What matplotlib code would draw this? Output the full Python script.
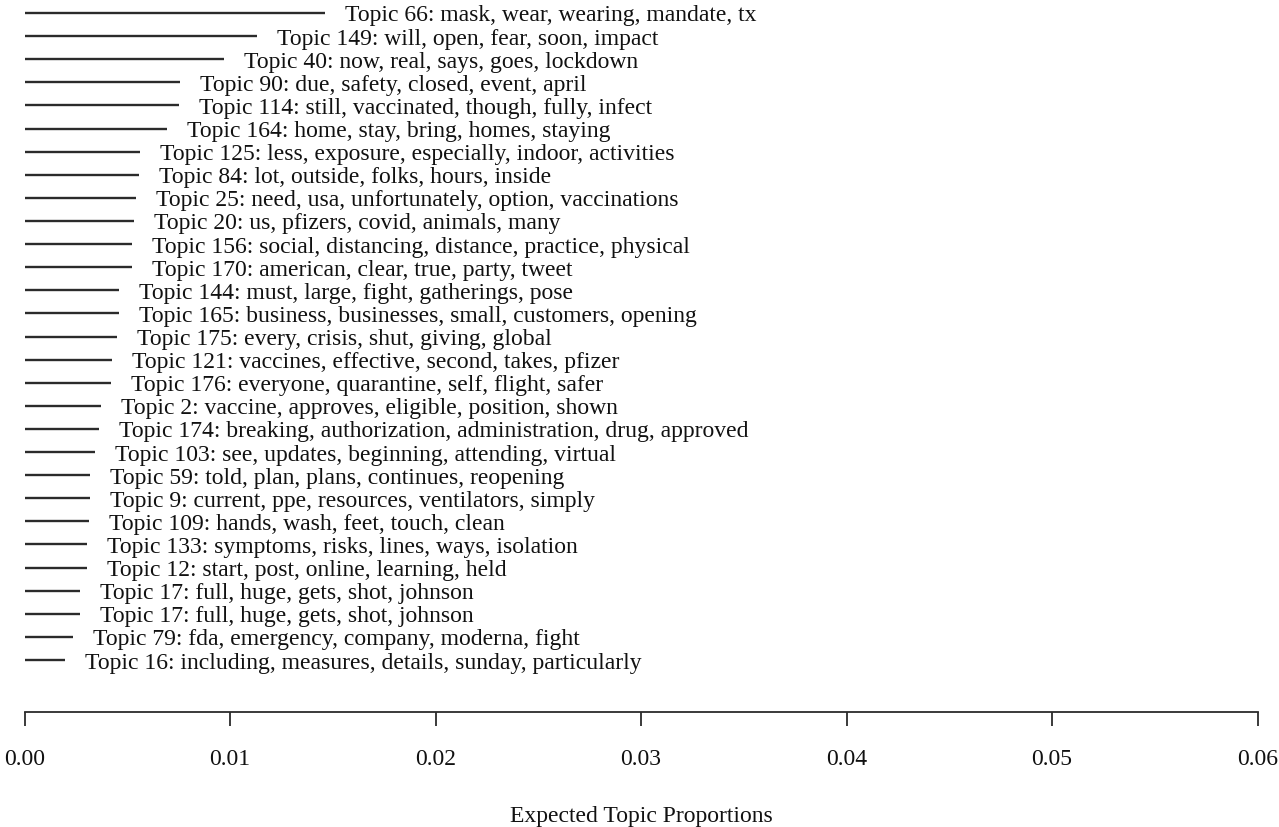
import matplotlib
matplotlib.use("Agg")
import matplotlib.pyplot as plt

# Expected topic proportions, listed top to bottom
topic_labels = [
    "Topic 66: mask, wear, wearing, mandate, tx",
    "Topic 149: will, open, fear, soon, impact",
    "Topic 40: now, real, says, goes, lockdown",
    "Topic 90: due, safety, closed, event, april",
    "Topic 114: still, vaccinated, though, fully, infect",
    "Topic 164: home, stay, bring, homes, staying",
    "Topic 125: less, exposure, especially, indoor, activities",
    "Topic 84: lot, outside, folks, hours, inside",
    "Topic 25: need, usa, unfortunately, option, vaccinations",
    "Topic 20: us, pfizers, covid, animals, many",
    "Topic 156: social, distancing, distance, practice, physical",
    "Topic 170: american, clear, true, party, tweet",
    "Topic 144: must, large, fight, gatherings, pose",
    "Topic 165: business, businesses, small, customers, opening",
    "Topic 175: every, crisis, shut, giving, global",
    "Topic 121: vaccines, effective, second, takes, pfizer",
    "Topic 176: everyone, quarantine, self, flight, safer",
    "Topic 2: vaccine, approves, eligible, position, shown",
    "Topic 174: breaking, authorization, administration, drug, approved",
    "Topic 103: see, updates, beginning, attending, virtual",
    "Topic 59: told, plan, plans, continues, reopening",
    "Topic 9: current, ppe, resources, ventilators, simply",
    "Topic 109: hands, wash, feet, touch, clean",
    "Topic 133: symptoms, risks, lines, ways, isolation",
    "Topic 12: start, post, online, learning, held",
    "Topic 17: full, huge, gets, shot, johnson",
    "Topic 17: full, huge, gets, shot, johnson",
    "Topic 79: fda, emergency, company, moderna, fight",
    "Topic 16: including, measures, details, sunday, particularly",
]
proportions = [
    0.01463, 0.01133, 0.00971, 0.00757, 0.00752, 0.00692, 0.00562, 0.00557,
    0.00543, 0.00533, 0.00525, 0.00525, 0.00461, 0.00460, 0.00452, 0.00428,
    0.00421, 0.00372, 0.00363, 0.00343, 0.00319, 0.00319, 0.00314, 0.00306,
    0.00303, 0.00270, 0.00270, 0.00235, 0.00197,
]
x_ticks = [0.00, 0.01, 0.02, 0.03, 0.04, 0.05, 0.06]
x_tick_labels = ["0.00", "0.01", "0.02", "0.03", "0.04", "0.05", "0.06"]

plt.rcParams["font.family"] = ["Liberation Serif", "DejaVu Serif"]

W, H = 1279, 828
fig = plt.figure(figsize=(W / 100, H / 100), dpi=100)
left_px, right_px, bottom_px, top_px = 24.5, 1257.5, 713, 0
ax = fig.add_axes([left_px / W, 1 - bottom_px / H,
                   (right_px - left_px) / W, (bottom_px - top_px) / H])

n = len(proportions)
first_row_px, last_row_px = 14, 661
row_gap = (last_row_px - first_row_px) / (n - 1)
ax.set_xlim(0, 0.06)
ax.set_ylim(1 - (bottom_px - last_row_px) / row_gap, n + first_row_px / row_gap)

line_color = "#2b2b2b"
text_color = "#111111"
fs = 17
for i, (lab, val) in enumerate(zip(topic_labels, proportions)):
    y = n - i
    ax.plot([0, val], [y, y], color=line_color, lw=1.7, solid_capstyle="butt")
    ax.annotate(lab, xy=(val, y), xytext=(20, -2), textcoords="offset pixels",
                ha="left", va="center", fontsize=fs, color=text_color,
                annotation_clip=False)

for s in ("left", "top", "right"):
    ax.spines[s].set_visible(False)
ax.spines["bottom"].set_color(line_color)
ax.spines["bottom"].set_linewidth(1.3)
ax.set_yticks([])
ax.set_xticks(x_ticks)
ax.set_xticklabels(x_tick_labels, fontsize=fs, color=text_color)
ax.tick_params(axis="x", direction="out", length=10, width=1.3,
               color=line_color, pad=16)
ax.set_xlabel("Expected Topic Proportions", fontsize=fs, color=text_color,
              labelpad=26)

fig.savefig("out.png", dpi=100)
